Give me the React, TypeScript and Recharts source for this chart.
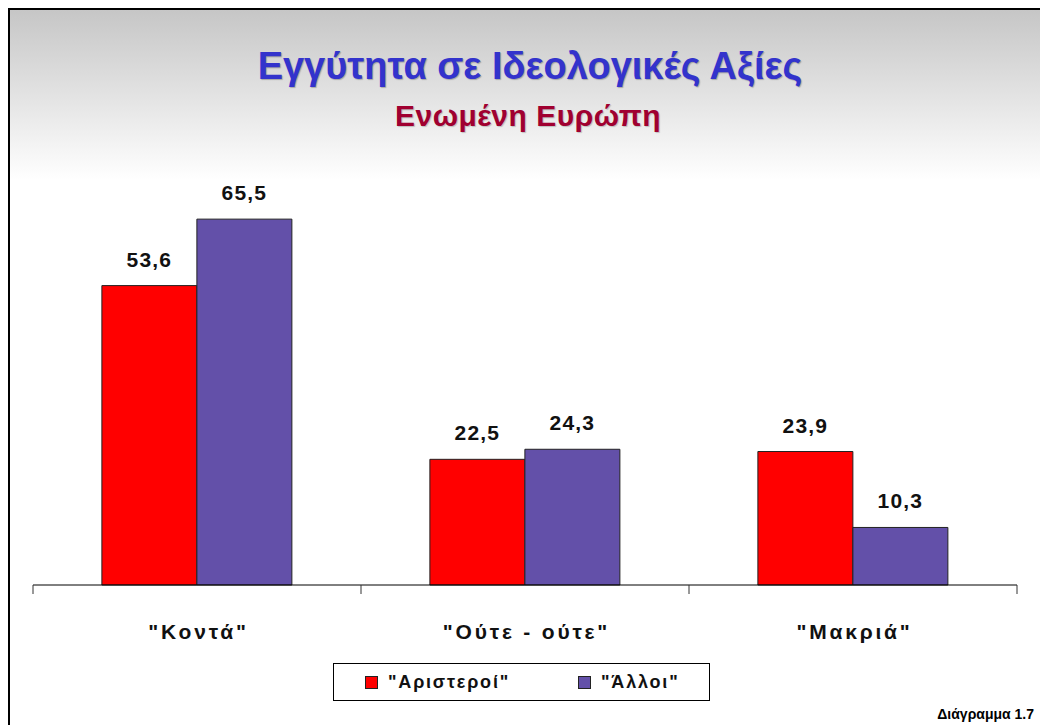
import { BarChart, Bar, XAxis, YAxis, LabelList } from 'recharts'

const categories = ['"Κοντά"', '"Ούτε - ούτε"', '"Μακριά"']
const leftists = [53.6, 22.5, 23.9]
const others = [65.5, 24.3, 10.3]
const seriesNames = ['"Αριστεροί"', '"Άλλοι"']
const seriesColors = ['#FF0000', '#6350A9']

const FONT = '"Liberation Sans", Arial, sans-serif'

const data = categories.map((name, i) => ({
  name,
  left: leftists[i],
  other: others[i],
}))

const fmt = (v: any) => Number(v).toFixed(1).replace('.', ',')

const labelStyle = {
  fontSize: 21,
  fontWeight: 'bold' as const,
  fontFamily: FONT,
  fill: '#111',
  letterSpacing: 1.2,
}

// category label plus tick marks on the band edges
function CatTick(props: any) {
  const { x, y, payload, index, visibleTicksCount, width } = props
  const half = payload.offset ?? width / visibleTicksCount / 2
  const last = index === visibleTicksCount - 1
  return (
    <g>
      <line x1={x - half} x2={x - half} y1={y} y2={y + 9} stroke="#333" />
      {last && <line x1={x + half} x2={x + half} y1={y} y2={y + 9} stroke="#333" />}
      <text
        x={x + 1.5}
        y={y + 54}
        textAnchor="middle"
        fontSize={21}
        fontWeight="bold"
        fontFamily={FONT}
        fill="#111"
        letterSpacing={2.8}
      >
        {payload.value}
      </text>
    </g>
  )
}

export default function App() {
  return (
    <div
      style={{
        position: 'absolute',
        left: 8,
        top: 8,
        width: 1032,
        height: 717,
        boxSizing: 'border-box',
        borderLeft: '2px solid #000',
        borderTop: '2px solid #000',
        background: 'linear-gradient(to bottom, #c6c6c6 0px, #ffffff 170px, #ffffff 100%)',
        overflow: 'hidden',
        fontFamily: FONT,
      }}
    >
      <style>{'body{margin:0;overflow:hidden}'}</style>

      <div
        style={{
          position: 'absolute',
          top: 34,
          left: 0,
          width: 1040,
          textAlign: 'center',
          fontSize: 38,
          lineHeight: '44px',
          fontWeight: 'bold',
          color: '#3333CC',
          textShadow: '1px 1px 1px rgba(0,0,0,0.25)',
        }}
      >
        Εγγύτητα σε Ιδεολογικές Αξίες
      </div>
      <div
        style={{
          position: 'absolute',
          top: 89,
          left: 0,
          width: 1036,
          textAlign: 'center',
          fontSize: 30,
          lineHeight: '34px',
          fontWeight: 'bold',
          letterSpacing: 0.5,
          color: '#A00030',
          textShadow: '1px 1px 1px rgba(0,0,0,0.2)',
        }}
      >
        Ενωμένη Ευρώπη
      </div>

      <BarChart
        width={1030}
        height={715}
        data={data}
        margin={{ top: 184, right: 23, left: 23, bottom: 80 }}
        barCategoryGap="21%"
        barGap={0}
        style={{ position: 'absolute', left: 0, top: 0 }}
      >
        <YAxis hide domain={[0, 70]} />
        <XAxis
          dataKey="name"
          axisLine={{ stroke: '#000', strokeWidth: 1 }}
          tickLine={false}
          tickSize={0}
          tickMargin={0}
          height={60}
          interval={0}
          tick={<CatTick />}
        />
        <Bar
          dataKey="left"
          name={seriesNames[0]}
          fill={seriesColors[0]}
          stroke="#222"
          strokeWidth={1}
          isAnimationActive={false}
        >
          <LabelList dataKey="left" position="top" offset={19} formatter={fmt} style={labelStyle} />
        </Bar>
        <Bar
          dataKey="other"
          name={seriesNames[1]}
          fill={seriesColors[1]}
          stroke="#222"
          strokeWidth={1}
          isAnimationActive={false}
        >
          <LabelList dataKey="other" position="top" offset={19} formatter={fmt} style={labelStyle} />
        </Bar>
      </BarChart>

      {/* legend box */}
      <div
        style={{
          position: 'absolute',
          left: 323,
          top: 653,
          width: 377,
          height: 38,
          boxSizing: 'border-box',
          border: '1px solid #000',
          background: '#fff',
        }}
      >
        {seriesNames.map((n, i) => (
          <div
            key={n}
            style={{
              position: 'absolute',
              left: i === 0 ? 31 : 244,
              top: 0,
              height: 36,
              display: 'flex',
              alignItems: 'center',
              fontSize: 18,
              fontWeight: 'bold',
              letterSpacing: 1.8,
              color: '#111',
            }}
          >
            <span
              style={{
                display: 'inline-block',
                width: 13,
                height: 13,
                boxSizing: 'border-box',
                background: seriesColors[i],
                border: '1px solid #222',
                marginRight: 10,
              }}
            />
            {n}
          </div>
        ))}
      </div>

      <div
        style={{
          position: 'absolute',
          right: 6,
          top: 696,
          fontSize: 14,
          lineHeight: '16px',
          fontWeight: 'bold',
          color: '#000',
        }}
      >
        Διάγραμμα 1.7
      </div>
    </div>
  )
}
